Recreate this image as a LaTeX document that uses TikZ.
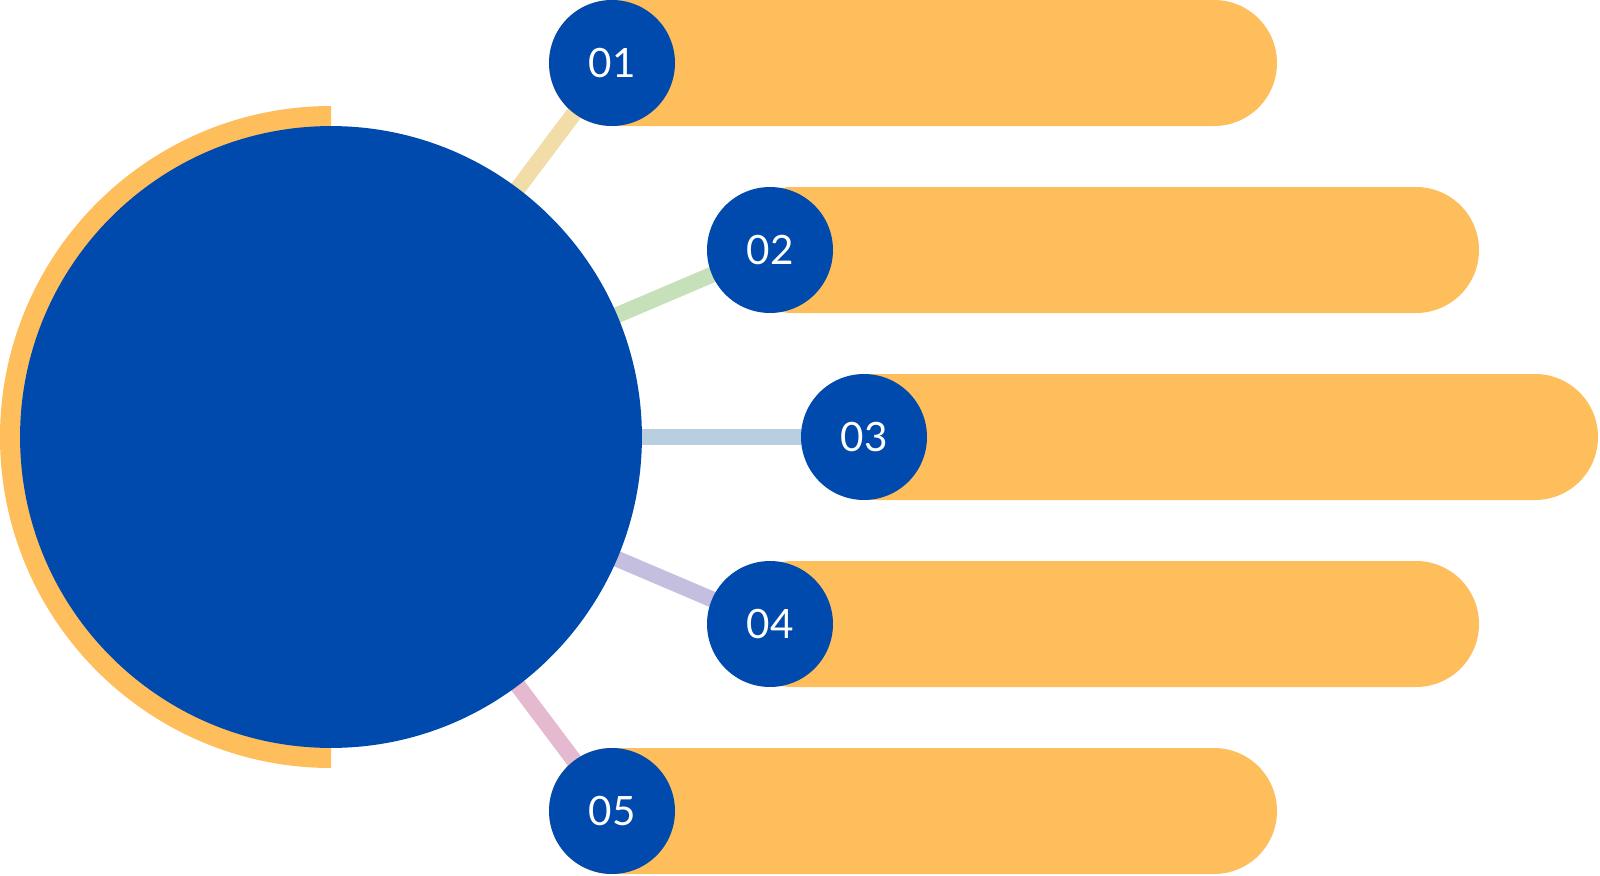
\documentclass[tikz,border=0pt]{standalone}
\usepackage{fontspec}
\setmainfont{Lato}
\usepackage{xcolor}
\usepackage{tikz}
\usetikzlibrary{backgrounds}

\definecolor{hubblue}{RGB}{0,74,173}
\definecolor{barorange}{RGB}{255,190,92}
\definecolor{linkA}{RGB}{242,221,168}
\definecolor{linkB}{RGB}{198,225,185}
\definecolor{linkC}{RGB}{184,206,225}
\definecolor{linkD}{RGB}{197,191,223}
\definecolor{linkE}{RGB}{229,185,208}

\begin{document}
\begin{tikzpicture}[
        x=0.02cm, y=-0.02cm,
        hub/.style={circle, fill=hubblue, inner sep=0pt, minimum size=12.44cm},
        badge/.style={circle, fill=hubblue, inner sep=0pt, minimum size=2.52cm,
            text=white, font=\fontsize{23}{23}\selectfont},
        bar/.style={fill=barorange, rounded corners=1.26cm},
        link/.style={line width=0.32cm}]

    \useasboundingbox (0,0) rectangle (1600,876);

    \fill[barorange] (331,106) arc[start angle=-90, end angle=-270, radius=331] -- cycle;
    \node[hub] (hub) at (331,437) {};

    \node[badge] (b1) at (612,63) {01};
    \node[badge] (b2) at (770,250) {02};
    \node[badge] (b3) at (864,437) {03};
    \node[badge] (b4) at (770,624) {04};
    \node[badge] (b5) at (612,811) {05};

    \begin{scope}[on background layer]
        \draw[link, linkA] (hub.center) -- (b1.center);
        \draw[link, linkB] (hub.center) -- (b2.center);
        \draw[link, linkC] (hub.center) -- (b3.center);
        \draw[link, linkD] (hub.center) -- (b4.center);
        \draw[link, linkE] (hub.center) -- (b5.center);

        \fill[bar] (549,0) rectangle (1277,126);
        \fill[bar] (730,187) rectangle (1479,313);
        \fill[bar] (814,374) rectangle (1598,500);
        \fill[bar] (730,561) rectangle (1479,687);
        \fill[bar] (549,748) rectangle (1277,874);
    \end{scope}
\end{tikzpicture}
\end{document}
